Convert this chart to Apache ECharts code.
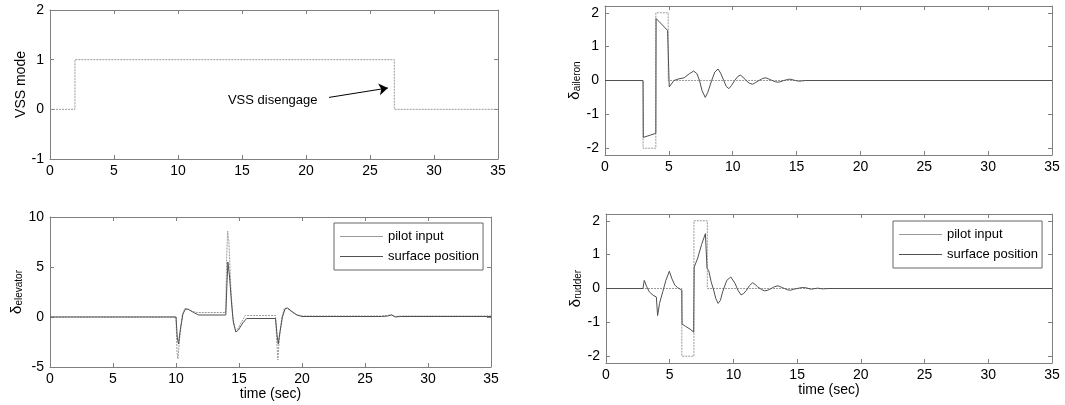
<!DOCTYPE html>
<html>
<head>
<meta charset="utf-8">
<script src="https://cdn.jsdelivr.net/npm/echarts@6/dist/echarts.min.js"></script>
<style>
  html, body { margin: 0; padding: 0; background: #fff; }
  #chart { width: 1065px; height: 405px; }
</style>
</head>
<body>
<div id="chart"></div>
<script>
// time axis ticks shared by all four panels
const timeTicks = [0, 5, 10, 15, 20, 25, 30, 35]
const deflTicks = [-2, -1, 0, 1, 2]

// [time (sec), value]
const vssMode = [[0, 0], [1.95, 0], [1.95, 1], [26.9, 1], [26.9, 0], [35, 0]]

const aileronPilot = [[0, 0], [2.98, 0], [2.98, -2], [3.98, -2], [3.98, 2], [4.95, 2], [4.95, 0], [35, 0]]
const aileronSurface = [
  [0, 0], [2.98, 0], [3.0, -1.68], [3.98, -1.56], [4.0, 1.83], [4.9, 1.48], [5.03, -0.19],
  [5.4, 0.0], [5.8, 0.05], [6.2, 0.08], [6.6, 0.2], [6.95, 0.28], [7.2, 0.2], [7.4, 0.0],
  [7.6, -0.3], [7.85, -0.5], [8.05, -0.35], [8.35, 0.0], [8.6, 0.25], [8.85, 0.34], [9.05, 0.22],
  [9.3, 0.0], [9.5, -0.18], [9.7, -0.24], [9.9, -0.15], [10.15, 0.0], [10.4, 0.12], [10.6, 0.16],
  [10.8, 0.1], [11.05, 0.0], [11.3, -0.08], [11.55, -0.11], [11.8, -0.06], [12.05, 0.0],
  [12.35, 0.06], [12.6, 0.08], [12.85, 0.04], [13.1, 0.0], [13.35, -0.04], [13.6, -0.05],
  [14.0, 0.0], [14.3, 0.03], [14.5, 0.04], [14.9, 0.0], [15.2, -0.02], [15.7, 0.0], [35, 0.0]
]

const elevatorPilot = [
  [0, 0], [10.0, 0], [10.08, -3.5], [10.15, -4.2], [10.3, -2.0], [10.5, 0.2], [10.7, 0.85],
  [10.95, 0.8], [11.3, 0.55], [11.7, 0.45], [13.95, 0.45], [14.02, 6.0], [14.1, 8.6], [14.2, 7.5],
  [14.35, 3.0], [14.5, 0.0], [14.7, -1.3], [14.9, -1.2], [15.2, -0.5], [15.5, 0.15], [17.9, 0.15],
  [18.0, -2.5], [18.08, -4.3], [18.2, -2.2], [18.4, 0.0], [18.6, 0.85], [18.8, 0.9], [19.1, 0.6],
  [19.5, 0.25], [20.0, 0.1], [26.3, 0.1], [26.8, 0.15], [27.1, 0.25], [27.4, 0.05], [27.8, 0.1], [35, 0.1]
]
const elevatorSurface = [
  [0, 0], [10.0, 0], [10.1, -2.0], [10.2, -2.7], [10.35, -1.2], [10.55, 0.3], [10.75, 0.8],
  [11.0, 0.75], [11.4, 0.45], [11.8, 0.2], [13.95, 0.2], [14.05, 3.5], [14.12, 5.5], [14.25, 4.0],
  [14.4, 1.5], [14.55, -0.5], [14.75, -1.5], [14.95, -1.3], [15.3, -0.6], [15.6, -0.15], [17.9, -0.15],
  [18.02, -1.8], [18.12, -2.7], [18.25, -1.5], [18.45, 0.0], [18.65, 0.8], [18.85, 0.9], [19.2, 0.55],
  [19.6, 0.2], [20.0, 0.05], [26.3, 0.05], [26.8, 0.1], [27.1, 0.2], [27.4, 0.0], [27.8, 0.05], [35, 0.05]
]

const rudderPilot = [[0, 0], [5.95, 0], [5.95, -2], [6.9, -2], [6.9, 2], [7.95, 2], [7.95, 0], [35, 0]]
const rudderSurface = [
  [0, 0], [2.9, 0], [3.0, 0.24], [3.2, 0.05], [3.4, -0.1], [3.7, -0.2], [3.95, -0.25], [4.05, -0.8],
  [4.2, -0.44], [4.45, -0.1], [4.7, 0.24], [4.97, 0.51], [5.17, 0.29], [5.4, 0.1], [5.6, 0.03],
  [5.95, -0.05], [5.97, -1.05], [6.25, -1.12], [6.6, -1.2], [6.88, -1.29], [6.92, 0.63], [7.2, 0.9],
  [7.5, 1.3], [7.8, 1.62], [7.93, 0.6], [8.06, 0.53], [8.25, 0.2], [8.45, -0.05], [8.62, -0.3],
  [8.8, -0.44], [8.98, -0.35], [9.15, -0.1], [9.48, 0.24], [9.79, 0.34], [10.13, 0.15], [10.35, -0.05],
  [10.6, -0.19], [10.8, -0.15], [11.03, -0.05], [11.25, 0.08], [11.5, 0.17], [11.7, 0.12], [11.9, 0.05],
  [12.2, -0.03], [12.45, -0.07], [12.7, -0.05], [12.97, 0.0], [13.2, 0.05], [13.5, 0.08], [13.75, 0.04],
  [14.0, 0.0], [14.25, -0.04], [14.5, -0.05], [14.75, -0.02], [15.0, 0.0], [15.4, 0.03], [15.7, 0.02],
  [16.1, -0.02], [16.6, 0.01], [17.0, -0.01], [17.5, 0], [35, 0]
]

const FONT = '"Liberation Sans", Arial, sans-serif'
const AXIS_COLOR = '#808080'
const PILOT_COLOR = '#9a9a9a'
const SURFACE_COLOR = '#505050'

const grids = [
  { left: 50, top: 10, width: 448, height: 149 },
  { left: 605, top: 6, width: 447, height: 149 },
  { left: 50, top: 217, width: 441, height: 150 },
  { left: 606, top: 214, width: 446, height: 149 },
]

const subName = (sub) => '{d|δ}{s|' + sub + '}'
const richName = {
  color: '#000',
  fontFamily: FONT,
  rich: {
    d: { fontSize: 15, fontFamily: FONT, color: '#000' },
    s: { fontSize: 10, fontFamily: FONT, color: '#000', verticalAlign: 'bottom', padding: [6, 0, 0, 0] },
  },
}

function xAxes(g, withName) {
  const base = {
    gridIndex: g,
    type: 'value',
    min: 0,
    max: 35,
    interval: 5,
    splitLine: { show: false },
    axisLine: { show: true, onZero: false, lineStyle: { color: AXIS_COLOR, width: 1 } },
    axisTick: { show: true, inside: true, length: 4, lineStyle: { color: AXIS_COLOR } },
  }
  return [
    {
      ...base,
      position: 'bottom',
      axisLabel: { color: '#000', fontSize: 14, fontFamily: FONT, margin: 5, customValues: timeTicks },
      name: withName ? 'time (sec)' : '',
      nameLocation: 'middle',
      nameGap: 20,
      nameTextStyle: { color: '#000', fontSize: 14, fontFamily: FONT },
    },
    { ...base, position: 'top', axisLabel: { show: false } },
  ]
}

function yAxes(g, min, max, ticks, name, nameGap, nameStyle) {
  const base = {
    gridIndex: g,
    type: 'value',
    min: min,
    max: max,
    splitLine: { show: false },
    axisLine: { show: true, onZero: false, lineStyle: { color: AXIS_COLOR, width: 1 } },
    axisTick: { show: true, inside: true, length: 4, customValues: ticks, lineStyle: { color: AXIS_COLOR } },
  }
  return [
    {
      ...base,
      position: 'left',
      axisLabel: { color: '#000', fontSize: 14, fontFamily: FONT, margin: 6, customValues: ticks },
      name: name,
      nameLocation: 'middle',
      nameRotate: 90,
      nameGap: nameGap,
      nameTextStyle: nameStyle,
    },
    { ...base, position: 'right', axisLabel: { show: false } },
  ]
}

function lineSeries(name, data, g, color, dashed) {
  return {
    name: name,
    type: 'line',
    xAxisIndex: g * 2,
    yAxisIndex: g * 2,
    data: data,
    symbol: 'none',
    lineStyle: { color: color, width: 1, type: dashed ? [2, 1] : 'solid' },
    itemStyle: { color: color },
    emphasis: { disabled: true },
  }
}

function legendAt(left, top) {
  return {
    left: left,
    top: top,
    orient: 'vertical',
    data: [
      { name: 'pilot input', icon: 'rect', itemStyle: { color: PILOT_COLOR } },
      { name: 'surface position', icon: 'rect', itemStyle: { color: SURFACE_COLOR } },
    ],
    backgroundColor: '#fff',
    borderColor: '#666',
    borderWidth: 1,
    borderRadius: 0,
    padding: [6, 4, 6, 6],
    itemGap: 5,
    itemWidth: 43,
    itemHeight: 1,
    textStyle: { color: '#000', fontSize: 13, fontFamily: FONT, lineHeight: 15 },
  }
}

const vss = lineSeries('VSS mode', vssMode, 0, PILOT_COLOR, true)
vss.markLine = {
  silent: true,
  symbol: ['none', 'arrow'],
  symbolSize: 9,
  label: { show: false },
  lineStyle: { color: '#000', width: 1, type: 'solid' },
  data: [[{ coord: [21.8, 0.24] }, { coord: [26.4, 0.43] }]],
}
vss.markPoint = {
  silent: true,
  symbol: 'rect',
  symbolSize: 1,
  itemStyle: { color: 'rgba(0,0,0,0)' },
  label: { show: true, position: 'inside', formatter: 'VSS disengage', color: '#000', fontSize: 13, fontFamily: FONT },
  data: [{ coord: [17.4, 0.18] }],
}

const chart = echarts.init(document.getElementById('chart'))
chart.setOption({
  animation: false,
  backgroundColor: '#fff',
  grid: grids,
  legend: [legendAt(334, 223), legendAt(893, 221)],
  xAxis: [...xAxes(0, false), ...xAxes(1, false), ...xAxes(2, true), ...xAxes(3, true)],
  yAxis: [
    ...yAxes(0, -1, 2, [-1, 0, 1, 2], 'VSS mode', 22, { color: '#000', fontSize: 14, fontFamily: FONT }),
    ...yAxes(1, -2.2, 2.2, deflTicks, subName('aileron'), 22, richName),
    ...yAxes(2, -5, 10, [-5, 0, 5, 10], subName('elevator'), 24, richName),
    ...yAxes(3, -2.2, 2.2, deflTicks, subName('rudder'), 22, richName),
  ],
  series: [
    vss,
    lineSeries('pilot input', aileronPilot, 1, PILOT_COLOR, true),
    lineSeries('surface position', aileronSurface, 1, SURFACE_COLOR, false),
    lineSeries('pilot input', elevatorPilot, 2, PILOT_COLOR, true),
    lineSeries('surface position', elevatorSurface, 2, SURFACE_COLOR, false),
    lineSeries('pilot input', rudderPilot, 3, PILOT_COLOR, true),
    lineSeries('surface position', rudderSurface, 3, SURFACE_COLOR, false),
  ],
})

window.addEventListener('resize', () => chart.resize())
</script>
</body>
</html>
